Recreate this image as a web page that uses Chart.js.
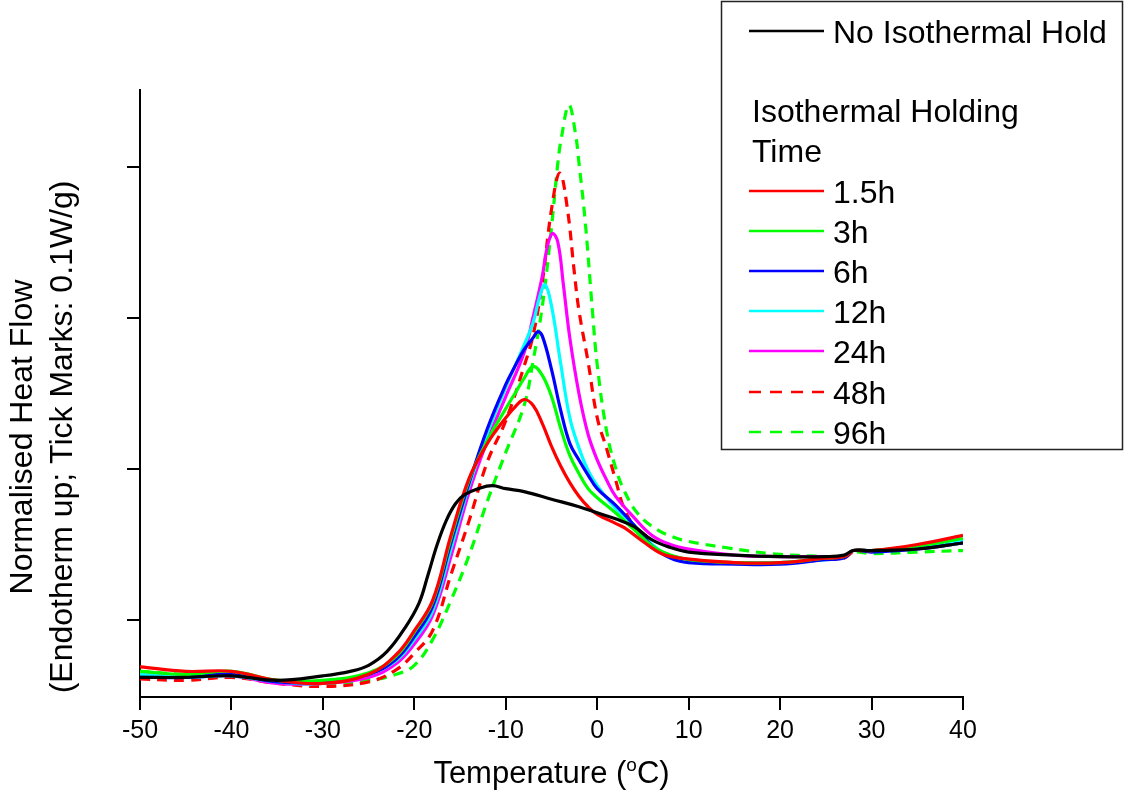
<!DOCTYPE html>
<html>
<head>
<meta charset="utf-8">
<title>DSC heat flow after isothermal holding</title>
<script src="https://cdn.jsdelivr.net/npm/chart.js@4.4.1/dist/chart.umd.min.js"></script>
<style>
  html, body { margin: 0; padding: 0; background: #fff; }
  #wrap { width: 1124px; height: 802px; }
</style>
</head>
<body>
<div id="wrap"><canvas id="dsc" width="1124" height="802"></canvas></div>
<script>
// heat flow traces, W/g (offset baseline), against temperature in degC
const tempNoHold = [-50, -45, -40, -35, -30, -27, -25, -23, -21, -19.5, -18.5, -17.5, -16.5, -15.5, -14.5, -13, -11.5, -10, -8, -5, -2, 0, 2, 4, 6, 8, 10, 15, 20, 25, 27, 28, 30, 35, 40];
const flowNoHold = [-0.038, -0.038, -0.037, -0.040, -0.037, -0.034, -0.030, -0.021, -0.005, 0.011, 0.030, 0.050, 0.066, 0.077, 0.083, 0.087, 0.089, 0.087, 0.085, 0.080, 0.075, 0.071, 0.067, 0.062, 0.053, 0.048, 0.045, 0.043, 0.042, 0.042, 0.043, 0.046, 0.046, 0.047, 0.051];

const temp1h5 = [-50, -45, -40, -35, -30, -25, -22, -20, -18, -16, -14, -12, -11, -10, -9, -8, -7, -6, -5, -4, -3, -2, -1, 0, 2, 3, 5, 7, 9, 15, 20, 25, 27, 28, 30, 35, 40];
const flow1h5 = [-0.031, -0.034, -0.034, -0.040, -0.042, -0.036, -0.023, -0.007, 0.013, 0.056, 0.094, 0.117, 0.126, 0.134, 0.141, 0.146, 0.142, 0.130, 0.115, 0.102, 0.091, 0.082, 0.075, 0.070, 0.064, 0.061, 0.052, 0.044, 0.041, 0.038, 0.038, 0.041, 0.042, 0.046, 0.046, 0.050, 0.056];

const temp3h = [-50, -45, -40, -35, -30, -25, -22, -20, -18, -16, -14, -12, -10, -9, -8, -7, -6, -5, -4, -3, -2, -1, 0, 2, 4, 6, 8, 10, 15, 20, 25, 27, 28, 30, 35, 40];
const flow3h = [-0.034, -0.036, -0.034, -0.040, -0.040, -0.035, -0.024, -0.008, 0.012, 0.054, 0.093, 0.119, 0.140, 0.150, 0.160, 0.168, 0.162, 0.148, 0.127, 0.109, 0.097, 0.087, 0.081, 0.071, 0.060, 0.049, 0.043, 0.040, 0.038, 0.038, 0.041, 0.042, 0.046, 0.046, 0.049, 0.054];

const temp6h = [-50, -45, -40, -35, -30, -25, -22, -20, -18, -16, -14, -12, -10, -9, -8, -7, -6.5, -6, -5, -4, -3, -2, -1, 0, 2, 4, 6, 8, 10, 15, 20, 25, 27, 28, 30, 35, 40];
const flow6h = [-0.038, -0.038, -0.036, -0.041, -0.041, -0.036, -0.026, -0.011, 0.009, 0.051, 0.091, 0.127, 0.156, 0.168, 0.179, 0.187, 0.191, 0.188, 0.166, 0.139, 0.117, 0.106, 0.096, 0.087, 0.076, 0.063, 0.049, 0.041, 0.038, 0.037, 0.037, 0.040, 0.041, 0.046, 0.045, 0.047, 0.051];

const temp12h = [-50, -45, -40, -35, -30, -25, -22, -20, -18, -16, -14, -12, -10, -8, -7, -6.3, -5.7, -5, -4, -3, -2, -1, 0, 2, 4, 6, 8, 10, 15, 20, 25, 27, 28, 30, 35, 40];
const flow12h = [-0.036, -0.038, -0.037, -0.041, -0.042, -0.036, -0.027, -0.013, 0.006, 0.047, 0.089, 0.124, 0.154, 0.182, 0.197, 0.214, 0.222, 0.208, 0.170, 0.134, 0.114, 0.099, 0.089, 0.074, 0.063, 0.050, 0.042, 0.039, 0.038, 0.038, 0.040, 0.042, 0.046, 0.046, 0.048, 0.053];

const temp24h = [-50, -45, -40, -35, -30, -25, -22, -20, -18, -16, -14, -12, -10, -8, -7, -6, -5.5, -4.9, -4.3, -3.7, -3, -2, -1, 0, 1, 2, 4, 6, 8, 10, 15, 20, 25, 27, 28, 30, 35, 40];
const flow24h = [-0.036, -0.038, -0.037, -0.042, -0.042, -0.038, -0.029, -0.016, 0.003, 0.042, 0.085, 0.119, 0.148, 0.177, 0.201, 0.228, 0.246, 0.256, 0.250, 0.222, 0.187, 0.150, 0.123, 0.106, 0.093, 0.082, 0.068, 0.056, 0.050, 0.047, 0.043, 0.042, 0.042, 0.042, 0.046, 0.046, 0.048, 0.052];

const temp48h = [-50, -45, -40, -35, -30, -25, -22, -20, -18, -16, -14, -12, -10, -8, -7, -6, -5, -4.1, -3.3, -2.5, -2, -1, 0, 1, 2, 3, 4.5, 6, 8, 10, 15, 20, 25, 27, 28, 30, 35, 40];
const flow48h = [-0.039, -0.040, -0.038, -0.042, -0.044, -0.041, -0.033, -0.022, -0.007, 0.030, 0.066, 0.105, 0.132, 0.168, 0.189, 0.224, 0.272, 0.296, 0.274, 0.230, 0.205, 0.171, 0.134, 0.114, 0.093, 0.073, 0.058, 0.048, 0.043, 0.040, 0.038, 0.038, 0.040, 0.041, 0.045, 0.046, 0.048, 0.052];

const temp96h = [-50, -45, -40, -35, -30, -25, -22, -20, -18, -16, -14, -12, -10, -8, -7, -6, -5, -4.3, -3.9, -3.1, -2.4, -2, -1.3, -0.5, 0, 1, 2, 3, 4.5, 6.5, 8.3, 10, 14, 19, 25, 27, 28, 30, 35, 40];
const flow96h = [-0.034, -0.036, -0.036, -0.040, -0.042, -0.040, -0.036, -0.030, -0.013, 0.013, 0.043, 0.079, 0.111, 0.142, 0.172, 0.208, 0.260, 0.303, 0.320, 0.341, 0.323, 0.303, 0.263, 0.203, 0.169, 0.126, 0.101, 0.085, 0.070, 0.060, 0.055, 0.052, 0.048, 0.044, 0.042, 0.042, 0.045, 0.044, 0.045, 0.046];

const seriesLabels = ['No Isothermal Hold', '1.5h', '3h', '6h', '12h', '24h', '48h', '96h'];
const xTicks = [-50, -40, -30, -20, -10, 0, 10, 20, 30, 40];
const yTicks = [0, 0.1, 0.2, 0.3];

const FONT = '"Liberation Sans", Arial, Helvetica, sans-serif';

function pairs(ts, vs) {
  return ts.map((t, i) => ({ x: t, y: vs[i] }));
}

function trace(label, ts, vs, color, dashed) {
  return {
    label,
    data: pairs(ts, vs),
    borderColor: color,
    borderWidth: 3.2,
    borderDash: dashed ? [10, 7] : [],
    fill: false,
    pointRadius: 0,
    tension: 0.4
  };
}

const datasets = [
  trace(seriesLabels[0], tempNoHold, flowNoHold, '#000000', false),
  trace(seriesLabels[1], temp1h5, flow1h5, '#ff0000', false),
  trace(seriesLabels[2], temp3h, flow3h, '#00ff00', false),
  trace(seriesLabels[3], temp6h, flow6h, '#0000ff', false),
  trace(seriesLabels[4], temp12h, flow12h, '#00ffff', false),
  trace(seriesLabels[5], temp24h, flow24h, '#ff00ff', false),
  trace(seriesLabels[6], temp48h, flow48h, '#ff0000', true),
  trace(seriesLabels[7], temp96h, flow96h, '#00ff00', true)
];

// boxed legend with a heading between the reference trace and the holding times,
// plus the axis titles (rotated two-line y title, superscript degree in x title)
const frameText = {
  id: 'frameText',
  afterDraw(chart) {
    const ctx = chart.ctx;
    const sets = chart.data.datasets;
    ctx.save();

    ctx.strokeStyle = '#222';
    ctx.lineWidth = 1.5;
    ctx.strokeRect(721.5, 1.5, 401, 448);

    ctx.font = '32px ' + FONT;
    ctx.fillStyle = '#000';
    ctx.textAlign = 'left';
    ctx.textBaseline = 'alphabetic';

    const rowY = [31, 191, 231, 271, 311, 351, 392, 432];
    sets.forEach((ds, i) => {
      const y = rowY[i];
      ctx.beginPath();
      ctx.strokeStyle = ds.borderColor;
      ctx.lineWidth = 2.5;
      ctx.setLineDash(ds.borderDash && ds.borderDash.length ? [12, 9] : []);
      ctx.moveTo(749, y);
      ctx.lineTo(824, y);
      ctx.stroke();
      ctx.setLineDash([]);
      ctx.fillText(ds.label, 833, y + 11.5);
    });
    ctx.fillText('Isothermal Holding', 752, 122);
    ctx.fillText('Time', 752, 162);

    // x title: Temperature (°C) with a raised small "o"
    const cx = (chart.chartArea.left + chart.chartArea.right) / 2;
    const big = '31px ' + FONT;
    const small = '19px ' + FONT;
    ctx.font = big;
    const w1 = ctx.measureText('Temperature (').width;
    const w3 = ctx.measureText('C)').width;
    ctx.font = small;
    const w2 = ctx.measureText('o').width;
    let x = cx - (w1 + w2 + w3) / 2;
    ctx.font = big;
    ctx.fillText('Temperature (', x, 783);
    x += w1;
    ctx.font = small;
    ctx.fillText('o', x, 771);
    x += w2;
    ctx.font = big;
    ctx.fillText('C)', x, 783);

    // y title, two rotated lines
    ctx.font = '32px ' + FONT;
    ctx.textAlign = 'center';
    [['Normalised Heat Flow', 32], ['(Endotherm up; Tick Marks: 0.1W/g)', 72]].forEach(([txt, bx]) => {
      ctx.save();
      ctx.translate(bx, 437);
      ctx.rotate(-Math.PI / 2);
      ctx.fillText(txt, 0, 0);
      ctx.restore();
    });

    ctx.restore();
  }
};

new Chart(document.getElementById('dsc'), {
  type: 'line',
  data: { datasets },
  options: {
    responsive: false,
    devicePixelRatio: 1,
    animation: false,
    layout: { padding: { top: 90, right: 161, bottom: 0, left: 0 } },
    plugins: {
      legend: { display: false },
      tooltip: { enabled: false }
    },
    scales: {
      x: {
        type: 'linear',
        min: -50,
        max: 40,
        afterBuildTicks: s => { s.ticks = xTicks.map(v => ({ value: v })); },
        ticks: {
          color: '#000',
          font: { family: FONT, size: 25 },
          padding: 6,
          maxRotation: 0,
          autoSkip: false
        },
        grid: { drawOnChartArea: false, tickLength: 13, color: '#000', lineWidth: 2 },
        border: { color: '#000', width: 2 },
        afterFit: s => { s.height = 105; }
      },
      y: {
        type: 'linear',
        min: -0.051,
        max: 0.351,
        afterBuildTicks: s => { s.ticks = yTicks.map(v => ({ value: v })); },
        ticks: { display: false },
        grid: { drawOnChartArea: false, tickLength: 13, color: '#000', lineWidth: 2 },
        border: { color: '#000', width: 2 },
        afterFit: s => { s.width = 140; }
      }
    }
  },
  plugins: [frameText]
});
</script>
</body>
</html>
